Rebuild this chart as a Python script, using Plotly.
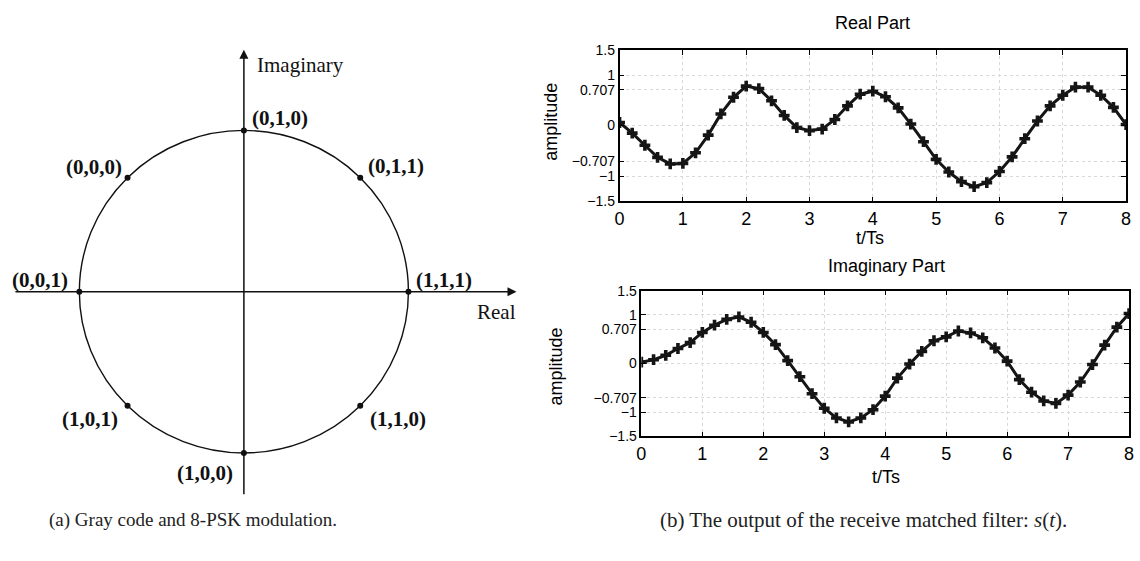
import plotly.graph_objects as go

# ---------------- data ----------------
# 8-PSK constellation (Gray code)
psk_labels = ["(1,1,1)", "(0,1,1)", "(0,1,0)", "(0,0,0)",
              "(0,0,1)", "(1,0,1)", "(1,0,0)", "(1,1,0)"]
psk_real = [1.0, 0.707, 0.0, -0.707, -1.0, -0.707, 0.0, 0.707]
psk_imag = [0.0, 0.707, 1.0, 0.707, 0.0, -0.707, -1.0, -0.707]

# matched filter output samples
t_ts = [0.0, 0.2, 0.4, 0.6, 0.8, 1.0, 1.2, 1.4, 1.6, 1.8,
        2.0, 2.2, 2.4, 2.6, 2.8, 3.0, 3.2, 3.4, 3.6, 3.8,
        4.0, 4.2, 4.4, 4.6, 4.8, 5.0, 5.2, 5.4, 5.6, 5.8,
        6.0, 6.2, 6.4, 6.6, 6.8, 7.0, 7.2, 7.4, 7.6, 7.8, 8.0]
real_part = [0.06, -0.15, -0.39, -0.63, -0.76, -0.75, -0.54, -0.19, 0.23, 0.56,
             0.78, 0.73, 0.49, 0.20, -0.04, -0.10, -0.07, 0.12, 0.39, 0.62,
             0.68, 0.57, 0.35, 0.03, -0.32, -0.67, -0.92, -1.11, -1.21, -1.13,
             -0.91, -0.62, -0.26, 0.09, 0.39, 0.60, 0.76, 0.76, 0.60, 0.36, 0.02]
imag_part = [0.03, 0.08, 0.17, 0.31, 0.43, 0.64, 0.79, 0.91, 0.96, 0.85,
             0.64, 0.39, 0.06, -0.27, -0.62, -0.92, -1.12, -1.20, -1.12, -0.95,
             -0.67, -0.30, -0.01, 0.25, 0.47, 0.55, 0.67, 0.63, 0.53, 0.32,
             0.05, -0.33, -0.59, -0.77, -0.82, -0.65, -0.38, -0.02, 0.38, 0.75, 1.03]

x_ticks = [0, 1, 2, 3, 4, 5, 6, 7, 8]
y_ticks = [-1.5, -1, -0.707, 0, 0.707, 1, 1.5]
y_ticktext = ["\u22121.5", "\u22121", "\u22120.707", "0", "0.707", "1", "1.5"]

# ---------------- layout helpers ----------------
W, H = 1140, 561
def fx(px):
    return px / W
def fy(py):
    return 1 - py / H

# left panel geometry (pixels)
CX, CY, R = 241, 292, 166
L_X0, L_X1, L_Y0, L_Y1 = 0, 530, 20, 540

def dx(px):
    return (px - CX) / R
def dy(py):
    return (CY - py) / R

# label placement (anchor, xshift, yshift) per constellation point
label_pos = [("left", 6, 12), ("left", 6, 12), ("left", 6, 12), ("right", -4, 11),
             ("right", -9, 12), ("right", -8, -13), ("right", -9, -20), ("left", 8, -13)]

fig = go.Figure()

# constellation points
fig.add_trace(go.Scatter(x=psk_real, y=psk_imag, mode="markers",
                         marker=dict(color="#111", size=6),
                         xaxis="x", yaxis="y", showlegend=False, hoverinfo="skip"))

line_color = "#151515"
for xa, ya, vals in (("x2", "y2", real_part), ("x3", "y3", imag_part)):
    fig.add_trace(go.Scatter(x=t_ts, y=vals, mode="lines+markers",
                             line=dict(color=line_color, width=3),
                             marker=dict(symbol="cross", size=9, color=line_color),
                             xaxis=xa, yaxis=ya, showlegend=False))

sans = "Liberation Sans, Arial, sans-serif"
serif = "Liberation Serif, Times New Roman, serif"
grid_c = "#d9d9d9"

def right_x(dom):
    return dict(domain=dom, range=[0, 8], tickvals=x_ticks, ticks="inside", ticklen=5,
                tickcolor="black", showline=True, linecolor="black", linewidth=1.5,
                mirror="allticks", showgrid=True, griddash="dot", gridcolor=grid_c,
                gridwidth=1, zeroline=False, tickfont=dict(family=sans, size=18, color="black"))

def right_y(dom, fsize):
    return dict(domain=dom, range=[-1.5, 1.5], tickvals=y_ticks, ticktext=y_ticktext,
                ticks="inside", ticklen=5, tickcolor="black", showline=True,
                linecolor="black", linewidth=1.5, mirror="allticks", showgrid=True,
                griddash="dot", gridcolor=grid_c, gridwidth=1, zeroline=False,
                tickfont=dict(family=sans, size=fsize, color="black"))

xa2 = right_x([fx(620), fx(1131)]); xa2["anchor"] = "y2"
ya2 = right_y([fy(199), fy(43)], 14); ya2["anchor"] = "x2"
xa3 = right_x([fx(642), fx(1134)]); xa3["anchor"] = "y3"
ya3 = right_y([fy(441), fy(291)], 14); ya3["anchor"] = "x3"

annotations = []
# constellation labels
for lab, xr, yi, (anc, xs, ys) in zip(psk_labels, psk_real, psk_imag, label_pos):
    annotations.append(dict(x=xr, y=yi, xref="x", yref="y", text="<b>%s</b>" % lab,
                            showarrow=False, xanchor=anc, yanchor="middle",
                            xshift=xs, yshift=ys,
                            font=dict(family=serif, size=21, color="#111")))
# axes arrows
annotations.append(dict(x=dx(516), y=0, ax=dx(9), ay=0, xref="x", yref="y",
                        axref="x", ayref="y", text="", showarrow=True, arrowhead=2,
                        arrowsize=1.2, arrowwidth=1.5, arrowcolor="#111"))
annotations.append(dict(x=0, y=dy(43), ax=0, ay=dy(502), xref="x", yref="y",
                        axref="x", ayref="y", text="", showarrow=True, arrowhead=2,
                        arrowsize=1.2, arrowwidth=1.5, arrowcolor="#111"))
annotations.append(dict(x=fx(252), y=fy(59), xref="paper", yref="paper", text="Imaginary",
                        showarrow=False, xanchor="left", yanchor="middle",
                        font=dict(family=serif, size=21, color="#111")))
annotations.append(dict(x=fx(518), y=fy(313), xref="paper", yref="paper", text="Real",
                        showarrow=False, xanchor="right", yanchor="middle",
                        font=dict(family=serif, size=21, color="#111")))
# right titles / labels
for txt, x, y, ang in (("Real Part", 875, 15, 0), ("t/Ts", 873, 237, 0),
                       ("amplitude", 550, 117, -90),
                       ("Imaginary Part", 889, 266, 0), ("t/Ts", 889, 483, 0),
                       ("amplitude", 556, 369, -90)):
    annotations.append(dict(x=fx(x), y=fy(y), xref="paper", yref="paper", text=txt,
                            showarrow=False, xanchor="center", yanchor="middle",
                            textangle=ang, font=dict(family=sans, size=18, color="black")))
# captions
annotations.append(dict(x=fx(190), y=fy(527), xref="paper", yref="paper",
                        text="(a) Gray code and 8-PSK modulation.", showarrow=False,
                        xanchor="center", yanchor="middle",
                        font=dict(family=serif, size=19, color="#222")))
annotations.append(dict(x=fx(866), y=fy(527), xref="paper", yref="paper",
                        text="(b) The output of the receive matched filter: <i>s</i>(<i>t</i>).",
                        showarrow=False, xanchor="center", yanchor="middle",
                        font=dict(family=serif, size=21, color="#222")))

fig.update_layout(
    width=W, height=H, margin=dict(l=0, r=0, t=0, b=0),
    paper_bgcolor="white", plot_bgcolor="white",
    xaxis=dict(domain=[fx(L_X0), fx(L_X1)], range=[dx(L_X0), dx(L_X1)], visible=False),
    yaxis=dict(domain=[fy(L_Y1), fy(L_Y0)], range=[dy(L_Y1), dy(L_Y0)], visible=False,
               anchor="x"),
    xaxis2=xa2, yaxis2=ya2, xaxis3=xa3, yaxis3=ya3,
    annotations=annotations,
    shapes=[dict(type="circle", xref="x", yref="y", x0=-1, y0=-1, x1=1, y1=1,
                 line=dict(color="#111", width=1.4))],
)

fig.write_html("out.html", config={"displayModeBar": False},
               post_script="document.body.style.margin='0';")
